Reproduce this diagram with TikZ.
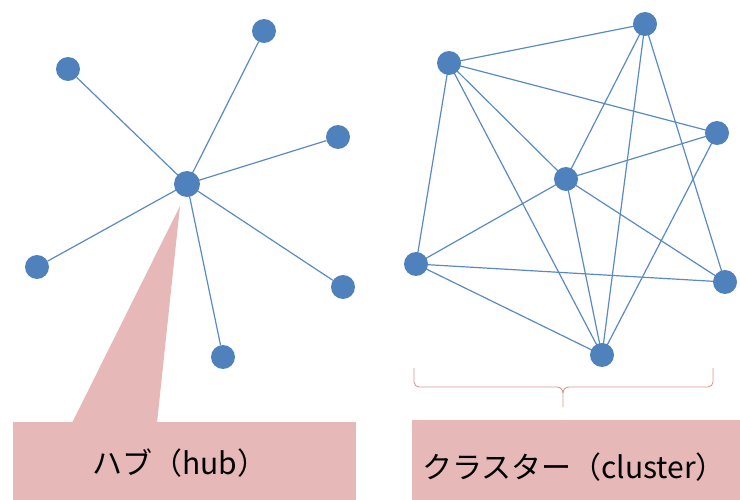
\documentclass[tikz,border=0pt]{standalone}
\usepackage{fontspec}
\newfontfamily\cjk{Noto Sans CJK JP}
\definecolor{nodeblue}{HTML}{4F81BD}
\definecolor{edgeblue}{HTML}{5A8AC6}
\definecolor{calpink}{HTML}{E6B9B8}
\definecolor{bracepink}{HTML}{D99694}
\begin{document}
\begin{tikzpicture}[x=1pt,y=-1pt,
  vtx/.style={circle,fill=nodeblue,inner sep=0pt,minimum size=24pt},
  hubvtx/.style={circle,fill=nodeblue,inner sep=0pt,minimum size=26pt},
  edge/.style={draw=edgeblue,line width=1.2pt},
  lbl/.style={font=\cjk\fontsize{30}{34}\selectfont,text=black}]
\useasboundingbox (0,0) rectangle (740,500);
% callout
\fill[calpink] (13,422) rectangle (356,500);
\fill[calpink] (180,206) -- (157,423) -- (72,423) -- cycle;
\fill[calpink] (412,420) rectangle (740,500);
% brace
\draw[bracepink,line width=0.9pt] (414,368) -- (414,382) to[out=-90,in=180] (419,387) -- (557,387) to[out=0,in=90] (563,393) -- (563,407);
\draw[bracepink,line width=0.9pt] (713,368) -- (713,382) to[out=-90,in=0] (708,387) -- (569,387) to[out=180,in=90] (563,393);
% hub graph
\coordinate (hc) at (187,184);
\node[vtx] (l1) at (68,69) {};
\node[vtx] (l2) at (264,31) {};
\node[vtx] (l3) at (338,137) {};
\node[vtx] (l4) at (37,267) {};
\node[vtx] (l5) at (343,287) {};
\node[vtx] (l6) at (223,357) {};
\foreach \l in {l1,l2,l3,l4,l5,l6} \draw[edge] (hc) -- (\l);
\node[hubvtx] (h) at (hc) {};
% cluster graph
\coordinate (Ac) at (449,63);
\coordinate (Bc) at (645,24);
\coordinate (Cc) at (717,133);
\coordinate (Dc) at (566,179);
\coordinate (Ec) at (416,264);
\coordinate (Fc) at (725,282);
\coordinate (Gc) at (602,355);
\foreach \a/\b in {A/B,A/C,A/D,A/E,A/G,B/D,B/G,B/F,C/D,C/G,D/E,D/G,D/F,E/F,E/G}
  \draw[edge] (\a c) -- (\b c);
\foreach \n in {A,B,C,D,E,F,G} \node[vtx] (\n) at (\n c) {};
% labels
\node[lbl] (t1) at (180,463) {ハブ（hub）};
\node[lbl] (t2) at (574,467) {クラスター（cluster）};
\end{tikzpicture}
\end{document}
